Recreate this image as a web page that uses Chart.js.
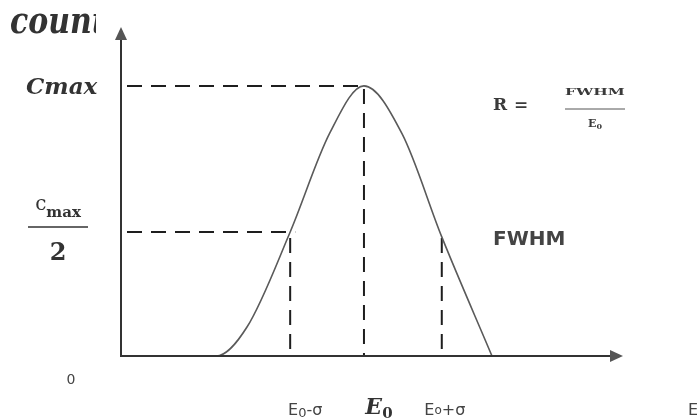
<!DOCTYPE html>
<html>
<head>
<meta charset="utf-8">
<script src="https://cdn.jsdelivr.net/npm/chart.js@4"></script>
<style>
  html, body { margin: 0; padding: 0; background: #fff; }
  #wrap { width: 697px; height: 420px; }
</style>
</head>
<body>
<div id="wrap"><canvas id="peakChart" width="697" height="420"></canvas></div>
<script>
// Peak profile (energy in arbitrary units, counts in % of the axis height)
const energy = [14, 19, 25.1, 33.7, 41.6, 48.4, 56.0, 63.9, 73.9];
const counts = [0, 0, 8.8, 37.7, 67.8, 82.1, 67.5, 36.2, 0];

// Reference levels
const cMax = 82.1;
const halfLevel = 37.7;
const e0 = 48.4;
const eLow = 33.7;
const eHigh = 63.9;

// Axis ranges
const xRange = [0, 100];
const yRange = [0, 100];

const curve = energy.map((e, i) => ({ x: e, y: counts[i] }));

function guide(points) {
    return {
        data: points,
        borderColor: '#1e1e1e',
        borderWidth: 2,
        borderDash: [15, 9],
        borderDashOffset: -6,
        pointRadius: 0,
        tension: 0
    };
}

// draw text pieces one after another (for subscripts)
function drawPieces(ctx, x, y, pieces, align) {
    let total = 0;
    pieces.forEach(p => { ctx.font = p.font; total += ctx.measureText(p.t).width; });
    let cx = align === 'center' ? x - total / 2 : x;
    ctx.textAlign = 'left';
    pieces.forEach(p => {
        ctx.font = p.font;
        ctx.fillText(p.t, cx, y + (p.dy || 0));
        cx += ctx.measureText(p.t).width;
    });
}

const annotations = {
    id: 'annotations',
    afterDatasetsDraw(chart) {
        const ctx = chart.ctx;
        const xs = chart.scales.x, ys = chart.scales.y;
        const x0 = xs.getPixelForValue(xRange[0]);
        const xEnd = xs.getPixelForValue(xRange[1]);
        const y0 = ys.getPixelForValue(yRange[0]);
        const yEnd = ys.getPixelForValue(yRange[1]);

        ctx.save();
        // axes
        ctx.strokeStyle = '#333';
        ctx.lineWidth = 2;
        ctx.beginPath();
        ctx.moveTo(x0, yEnd + 8);
        ctx.lineTo(x0, y0);
        ctx.lineTo(xEnd - 8, y0);
        ctx.stroke();
        ctx.fillStyle = '#555';
        ctx.beginPath();
        ctx.moveTo(xEnd, y0);
        ctx.lineTo(xEnd - 13, y0 - 6);
        ctx.lineTo(xEnd - 13, y0 + 6);
        ctx.closePath();
        ctx.fill();
        ctx.beginPath();
        ctx.moveTo(x0, yEnd);
        ctx.lineTo(x0 - 6, yEnd + 13);
        ctx.lineTo(x0 + 6, yEnd + 13);
        ctx.closePath();
        ctx.fill();

        ctx.fillStyle = '#333';
        ctx.textBaseline = 'alphabetic';

        // y axis title, cut at the right
        ctx.save();
        ctx.beginPath();
        ctx.rect(0, 0, 96, 50);
        ctx.clip();
        ctx.translate(10, 33);
        ctx.scale(1, 1.15);
        ctx.font = 'bold italic 30px "DejaVu Serif"';
        ctx.textAlign = 'left';
        ctx.fillText('count', 0, 0);
        ctx.restore();

        // y labels
        const yMax = ys.getPixelForValue(cMax);
        ctx.font = 'italic bold 23px "DejaVu Serif"';
        ctx.textAlign = 'left';
        ctx.fillText('Cmax', 26, yMax + 8);

        const yHalf = ys.getPixelForValue(halfLevel);
        drawPieces(ctx, 58, yHalf - 22, [
            { t: 'c', font: '20px "DejaVu Serif"' },
            { t: 'max', font: 'bold 15px "DejaVu Serif"', dy: 7 }
        ], 'center');
        ctx.lineWidth = 1.5;
        ctx.strokeStyle = '#333';
        ctx.beginPath();
        ctx.moveTo(28, yHalf - 5);
        ctx.lineTo(88, yHalf - 5);
        ctx.stroke();
        ctx.font = 'bold 24px "DejaVu Serif"';
        ctx.textAlign = 'center';
        ctx.fillText('2', 58, yHalf + 28);

        ctx.font = '14px "DejaVu Sans"';
        ctx.fillStyle = '#444';
        ctx.fillText('0', 71, y0 + 28);

        // x labels
        const base = 415;
        drawPieces(ctx, xs.getPixelForValue(eLow) + 15, base, [
            { t: 'E', font: '16px "DejaVu Sans"' },
            { t: '0', font: '13px "DejaVu Sans"', dy: 2 },
            { t: '-σ', font: '16px "DejaVu Sans"' }
        ], 'center');
        ctx.fillStyle = '#333';
        drawPieces(ctx, xs.getPixelForValue(e0) + 15, base - 1, [
            { t: 'E', font: 'bold italic 22px "DejaVu Serif"' },
            { t: '0', font: 'bold 15px "DejaVu Serif"', dy: 4 }
        ], 'center');
        ctx.fillStyle = '#444';
        drawPieces(ctx, xs.getPixelForValue(eHigh) + 3, base, [
            { t: 'E', font: '16px "DejaVu Sans"' },
            { t: 'o', font: '12px "DejaVu Sans"', dy: -1 },
            { t: '+σ', font: '16px "DejaVu Sans"' }
        ], 'center');
        ctx.font = '16px "DejaVu Sans"';
        ctx.textAlign = 'left';
        ctx.fillText('E', 688, base);

        // resolution formula
        ctx.fillStyle = '#3a3a3a';
        ctx.font = 'bold 17px "DejaVu Serif"';
        ctx.textAlign = 'left';
        ctx.fillText('R', 493, 110);
        ctx.fillText('=', 514, 110);
        ctx.save();
        ctx.translate(595, 95);
        ctx.scale(1.4, 0.8);
        ctx.font = 'bold 11px "DejaVu Serif"';
        ctx.textAlign = 'center';
        ctx.fillText('FWHM', 0, 0);
        ctx.restore();
        ctx.lineWidth = 1;
        ctx.strokeStyle = '#555';
        ctx.beginPath();
        ctx.moveTo(565, 109);
        ctx.lineTo(625, 109);
        ctx.stroke();
        drawPieces(ctx, 595, 127, [
            { t: 'E', font: 'bold 11px "DejaVu Serif"' },
            { t: '0', font: 'bold 8px "DejaVu Serif"', dy: 2 }
        ], 'center');

        // width marker label
        ctx.fillStyle = '#444';
        ctx.font = 'bold 20px "DejaVu Sans"';
        ctx.textAlign = 'left';
        ctx.fillText('FWHM', 493, 245);
        ctx.restore();
    }
};

new Chart(document.getElementById('peakChart').getContext('2d'), {
    type: 'line',
    data: {
        datasets: [
            {
                data: curve,
                borderColor: '#5a5a5a',
                borderWidth: 1.6,
                pointRadius: 0,
                cubicInterpolationMode: 'monotone'
            },
            guide([{ x: 0, y: cMax }, { x: e0, y: cMax }, { x: e0, y: 0 }]),
            guide([{ x: 0, y: halfLevel }, { x: eLow + 1, y: halfLevel }]),
            guide([{ x: eLow, y: halfLevel }, { x: eLow, y: 0 }]),
            guide([{ x: eHigh, y: halfLevel }, { x: eHigh, y: 0 }])
        ]
    },
    plugins: [annotations],
    options: {
        responsive: false,
        animation: false,
        layout: { padding: { left: 121, right: 74, top: 27, bottom: 64 } },
        plugins: { legend: { display: false }, tooltip: { enabled: false } },
        scales: {
            x: { type: 'linear', min: xRange[0], max: xRange[1], display: false },
            y: { type: 'linear', min: yRange[0], max: yRange[1], display: false }
        }
    }
});
</script>
</body>
</html>
